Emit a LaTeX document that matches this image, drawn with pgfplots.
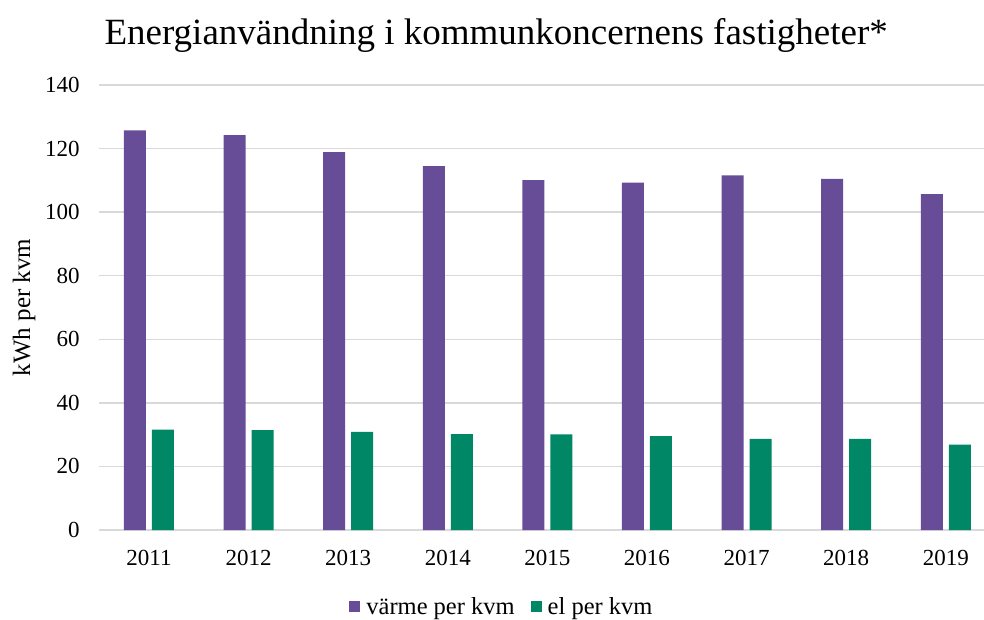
\documentclass[border=0pt]{standalone}
\usepackage{fontspec}
\setmainfont{Liberation Serif}
\usepackage{pgfplots}
\pgfplotsset{compat=1.18}

\definecolor{varme}{RGB}{103,76,151}
\definecolor{el}{RGB}{0,135,102}
\definecolor{gridgray}{RGB}{217,217,217}

\pgfplotstableread{
x year varme el
0 2011 125.7 31.6
1 2012 124.2 31.4
2 2013 118.9 30.9
3 2014 114.5 30.2
4 2015 110.1 30.1
5 2016 109.3 29.5
6 2017 111.6 28.7
7 2018 110.5 28.7
8 2019 105.7 26.9
}\energy

\begin{document}
\begin{tikzpicture}
\useasboundingbox (0,0) rectangle (984pt,619pt);
\node[anchor=base west, font=\fontsize{37}{40}\selectfont] at (101pt,574.5pt) {Energianvändning i kommunkoncernens fastigheter*};
\begin{axis}[
  at={(99.2pt,89pt)}, anchor=south west,
  scale only axis,
  width=884.8pt, height=445pt,
  xmin=-0.5, xmax=8.384,
  ymin=0, ymax=140,
  ytick={0,20,...,140},
  xtick=data,
  xticklabels={2011,2012,2013,2014,2015,2016,2017,2018,2019},
  ybar=6pt, bar width=22pt,
  axis line style={draw=none},
  major tick length=0pt,
  ymajorgrids,
  grid style={gridgray, line width=1.3pt},
  tick label style={font=\fontsize{23}{26}\selectfont},
  /pgf/number format/assume math mode=true,
  yticklabel style={xshift=-16pt},
  xticklabel style={yshift=-17pt},
  ylabel={kWh per kvm},
  every axis y label/.style={at={(-75pt,222.5pt)}, rotate=90, anchor=center,
    font=\fontsize{25}{28}\selectfont},
  legend style={draw=none, at={(247pt,-77pt)}, anchor=west,
    font=\fontsize{24.5}{27}\selectfont, legend columns=2,
    /tikz/every odd column/.append style={column sep=4pt},
    /tikz/every even column/.append style={column sep=14pt}},
  legend image code/.code={\fill[#1] (0pt,-5pt) rectangle (11pt,6pt);},
]
\addplot[fill=varme, draw=none] table[x=x, y=varme] {\energy};
\addplot[fill=el, draw=none] table[x=x, y=el] {\energy};
\legend{värme per kvm, el per kvm}
\end{axis}
\end{tikzpicture}
\end{document}
